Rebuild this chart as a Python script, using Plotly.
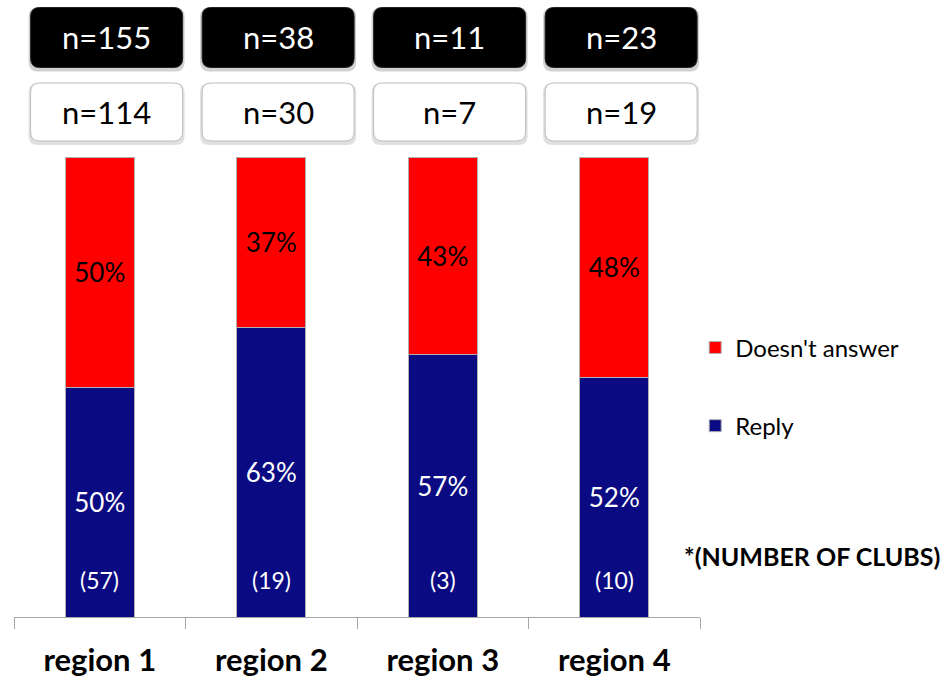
import plotly.graph_objects as go

# ---- data ----
regions = ["region 1", "region 2", "region 3", "region 4"]
reply_pct = [50, 63, 57, 52]
no_answer_pct = [50, 37, 43, 48]
reply_clubs = [57, 19, 3, 10]
total_n = [155, 38, 11, 23]
answered_n = [114, 30, 7, 19]

FONT = "Lato"
RED = "#FF0000"
NAVY = "#0A0A82"

fig = go.Figure()

fig.add_trace(go.Bar(
    x=regions, y=reply_pct, name="Reply",
    marker=dict(color=NAVY, line=dict(color="#B0B0B0", width=1)),
    text=[f"{v}%" for v in reply_pct], textposition="inside",
    insidetextanchor="middle", textangle=0,
    textfont=dict(family=FONT, size=26, color="white"),
    width=0.4, legendgroup="reply", legendrank=2, hoverinfo="skip",
))
fig.add_trace(go.Bar(
    x=regions, y=no_answer_pct, name="Doesn't answer",
    marker=dict(color=RED, line=dict(color="#B0B0B0", width=1)),
    text=[f"{v}%" for v in no_answer_pct], textposition="inside",
    insidetextanchor="middle", textangle=0,
    textfont=dict(family=FONT, size=26, color="black"),
    width=0.4, legendgroup="noans", legendrank=1, hoverinfo="skip",
))

# club counts near the bottom of each bar
for r, c in zip(regions, reply_clubs):
    fig.add_annotation(x=r, y=8, xref="x", yref="y", text=f"({c})",
                       showarrow=False,
                       font=dict(family=FONT, size=23, color="white"))


def rounded_box(w, h, r):
    """Rounded rectangle path centred on its anchor, in pixels."""
    hw, hh = w / 2, h / 2
    return (f"M {-hw + r},{-hh} L {hw - r},{-hh} Q {hw},{-hh} {hw},{-hh + r} "
            f"L {hw},{hh - r} Q {hw},{hh} {hw - r},{hh} L {-hw + r},{hh} "
            f"Q {-hw},{hh} {-hw},{hh - r} L {-hw},{-hh + r} Q {-hw},{-hh} {-hw + r},{-hh} Z")


BOX_W, BOX_R = 152, 9
for i, (tn, an) in enumerate(zip(total_n, answered_n)):
    cx = i + 0.04
    # black total box and white answered box, each with a soft shadow
    for (dy, shp, fill, line) in [
        (1.2598, rounded_box(156, 64, BOX_R), "rgba(0,0,0,0.18)", "rgba(0,0,0,0)"),
        (1.2598, rounded_box(BOX_W, 60, BOX_R), "#000000", "#222222"),
        (1.0978, rounded_box(156, 62, BOX_R), "rgba(0,0,0,0.12)", "rgba(0,0,0,0)"),
        (1.0978, rounded_box(BOX_W, 58, BOX_R), "#FFFFFF", "#BDBDBD"),
    ]:
        off = -2 if fill.startswith("rgba") else 0
        fig.add_shape(type="path", xref="x", yref="paper",
                      xsizemode="pixel", ysizemode="pixel",
                      xanchor=cx, yanchor=dy + off / 460.0,
                      path=shp, fillcolor=fill,
                      line=dict(color=line, width=1), layer="above")
    fig.add_annotation(x=cx, y=1.2598, xref="x", yref="paper", text=f"n={tn}",
                       showarrow=False, yanchor="middle",
                       font=dict(family=FONT, size=31, color="white"))
    fig.add_annotation(x=cx, y=1.0978, xref="x", yref="paper", text=f"n={an}",
                       showarrow=False, yanchor="middle",
                       font=dict(family=FONT, size=31, color="black"))

fig.add_annotation(x=1.163, y=0.133, xref="paper", yref="paper",
                   text="<b>*(NUMBER OF CLUBS)</b>", showarrow=False,
                   xanchor="center", yanchor="middle",
                   font=dict(family=FONT, size=25, color="black"))

fig.update_layout(
    width=951, height=683,
    margin=dict(l=14, r=251, t=157, b=66, autoexpand=False),
    paper_bgcolor="white", plot_bgcolor="white",
    barmode="stack", bargap=0.6,
    showlegend=True,
    legend=dict(x=0.993, y=0.634, xanchor="left", yanchor="top",
                traceorder="grouped", tracegroupgap=44,
                font=dict(family=FONT, size=24, color="black"),
                bgcolor="rgba(0,0,0,0)"),
    xaxis=dict(type="category", range=[-0.5, 3.5], automargin=False,
               showline=True, linecolor="#A6A6A6", linewidth=1,
               ticks="outside", tickson="boundaries", ticklen=11,
               tickcolor="#A6A6A6", ticklabelstandoff=16,
               tickfont=dict(family=FONT, size=31, color="black", weight="bold"),
               showgrid=False, zeroline=False, fixedrange=True),
    yaxis=dict(range=[0, 100], visible=False, showgrid=False,
               zeroline=False, fixedrange=True),
)

fig.write_html("out.html")
